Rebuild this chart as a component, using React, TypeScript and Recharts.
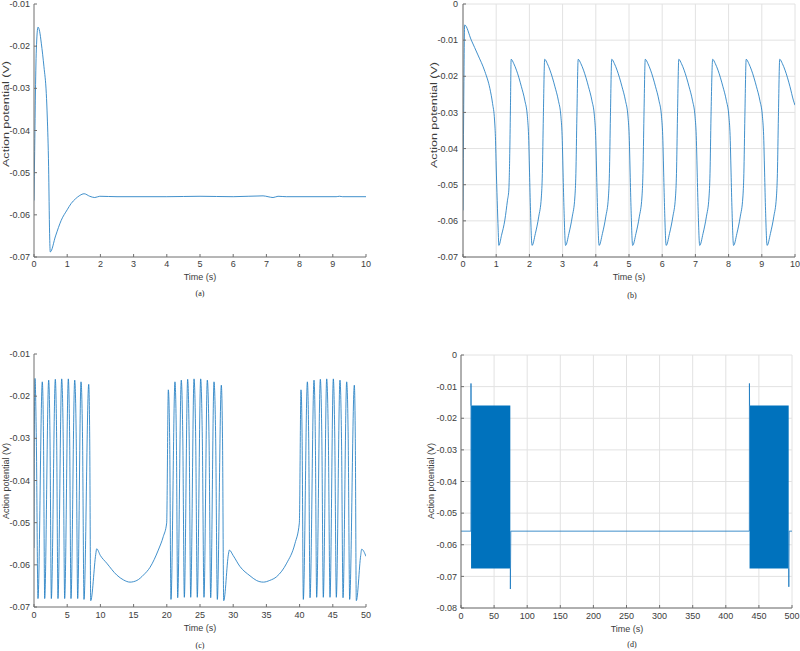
import React from "react";
import { ComposedChart, Line, Area, XAxis, YAxis, CartesianGrid } from "recharts";

// ---------- data ----------
const seriesA: [number, number][] = [
  [0, -0.0566], [0.02, -0.045], [0.04, -0.0328], [0.07, -0.0209], [0.12, -0.0155], [0.17, -0.0165],
  [0.22, -0.0193], [0.30, -0.0249], [0.37, -0.0312], [0.40, -0.0368], [0.44, -0.0486], [0.47, -0.0644],
  [0.49, -0.0688], [0.65, -0.0650], [0.82, -0.0613], [1.0, -0.0588], [1.12, -0.0573], [1.25, -0.0562],
  [1.38, -0.0554], [1.51, -0.0550], [1.68, -0.0556], [1.83, -0.0559], [1.98, -0.0556], [2.5, -0.0557],
  [4, -0.0557], [5, -0.0556], [6, -0.0557], [6.9, -0.0555], [7.05, -0.0557], [7.2, -0.0559],
  [7.35, -0.0556], [7.6, -0.0557], [9.1, -0.0557], [9.2, -0.0556], [9.3, -0.0557], [10, -0.0557],
];

const seriesB: [number, number][] = [
  [0, -0.0571], [0.02, -0.030], [0.05, -0.0058], [0.25, -0.0100], [0.45, -0.0141], [0.66, -0.0187],
  [0.81, -0.0234], [0.89, -0.0275], [0.95, -0.0321], [0.98, -0.0377], [1.00, -0.0451], [1.03, -0.0543],
  [1.06, -0.0626], [1.08, -0.0668], [1.16, -0.0640], [1.26, -0.0598], [1.34, -0.0543], [1.38, -0.0515],
  [1.41, -0.0404], [1.43, -0.0280],
  [1.45, -0.0153], [1.53, -0.0165], [1.61, -0.0183], [1.76, -0.0229], [1.86, -0.0266], [1.94, -0.0312], [1.98, -0.0377], [2.00, -0.0451], [2.03, -0.0561], [2.08, -0.0668], [2.18, -0.0635], [2.28, -0.0589], [2.36, -0.0534], [2.39, -0.0469], [2.42, -0.0312],
  [2.46, -0.0153], [2.54, -0.0165], [2.62, -0.0183], [2.77, -0.0229], [2.87, -0.0266], [2.95, -0.0312], [2.99, -0.0377], [3.01, -0.0451], [3.04, -0.0561], [3.09, -0.0668], [3.19, -0.0635], [3.29, -0.0589], [3.37, -0.0534], [3.40, -0.0469], [3.43, -0.0312],
  [3.47, -0.0153], [3.55, -0.0165], [3.63, -0.0183], [3.78, -0.0229], [3.88, -0.0266], [3.96, -0.0312], [4.00, -0.0377], [4.02, -0.0451], [4.05, -0.0561], [4.10, -0.0668], [4.20, -0.0635], [4.30, -0.0589], [4.38, -0.0534], [4.41, -0.0469], [4.44, -0.0312],
  [4.48, -0.0153], [4.56, -0.0165], [4.64, -0.0183], [4.79, -0.0229], [4.89, -0.0266], [4.97, -0.0312], [5.01, -0.0377], [5.03, -0.0451], [5.06, -0.0561], [5.11, -0.0668], [5.21, -0.0635], [5.31, -0.0589], [5.39, -0.0534], [5.42, -0.0469], [5.45, -0.0312],
  [5.49, -0.0153], [5.57, -0.0165], [5.65, -0.0183], [5.80, -0.0229], [5.90, -0.0266], [5.98, -0.0312], [6.02, -0.0377], [6.04, -0.0451], [6.07, -0.0561], [6.12, -0.0668], [6.22, -0.0635], [6.32, -0.0589], [6.40, -0.0534], [6.43, -0.0469], [6.46, -0.0312],
  [6.50, -0.0153], [6.58, -0.0165], [6.66, -0.0183], [6.81, -0.0229], [6.91, -0.0266], [6.99, -0.0312], [7.03, -0.0377], [7.05, -0.0451], [7.08, -0.0561], [7.13, -0.0668], [7.23, -0.0635], [7.33, -0.0589], [7.41, -0.0534], [7.44, -0.0469], [7.47, -0.0312],
  [7.52, -0.0153], [7.60, -0.0165], [7.68, -0.0183], [7.83, -0.0229], [7.93, -0.0266], [8.01, -0.0312], [8.05, -0.0377], [8.07, -0.0451], [8.10, -0.0561], [8.15, -0.0668], [8.25, -0.0635], [8.35, -0.0589], [8.43, -0.0534], [8.46, -0.0469], [8.49, -0.0312],
  [8.53, -0.0153], [8.61, -0.0165], [8.69, -0.0183], [8.84, -0.0229], [8.94, -0.0266], [9.02, -0.0312], [9.06, -0.0377], [9.08, -0.0451], [9.11, -0.0561], [9.16, -0.0668], [9.26, -0.0635], [9.36, -0.0589], [9.44, -0.0534], [9.47, -0.0469], [9.50, -0.0312],
  [9.54, -0.0153], [9.62, -0.0165], [9.70, -0.0183], [9.85, -0.0229], [9.95, -0.0266], [10.0, -0.0280],
];

const seriesC: [number, number][] = [
  [0, -0.0560], [0.05, -0.030], [0.15, -0.0158], [0.35, -0.030], [0.60, -0.0680],
  [1.25, -0.0166], [1.43, -0.030], [1.61, -0.0680],
  [2.21, -0.0162], [2.41, -0.030], [2.61, -0.0680],
  [3.21, -0.0160], [3.41, -0.030], [3.61, -0.0680],
  [4.17, -0.0159], [4.40, -0.030], [4.62, -0.0680],
  [5.17, -0.0159], [5.37, -0.030], [5.57, -0.0680],
  [6.13, -0.0162], [6.36, -0.030], [6.58, -0.0680],
  [7.08, -0.0166], [7.31, -0.030], [7.53, -0.0682],
  [8.24, -0.0172], [8.39, -0.030], [8.54, -0.0685],
  [9.30, -0.0575], [9.44, -0.0562], [10.0, -0.0578], [10.95, -0.0596], [12.45, -0.0624], [13.5, -0.0636],
  [14.46, -0.0641], [15.5, -0.0637], [16.5, -0.0624], [17.47, -0.0606], [18.72, -0.0565], [19.47, -0.0533], [19.98, -0.0501],
  [20.23, -0.0185], [20.43, -0.030], [20.63, -0.0682],
  [21.23, -0.0166], [21.44, -0.030], [21.64, -0.0678],
  [22.18, -0.0162], [22.41, -0.030], [22.64, -0.0677],
  [23.14, -0.0160], [23.37, -0.030], [23.60, -0.0677],
  [24.10, -0.0159], [24.35, -0.030], [24.59, -0.0677],
  [25.10, -0.0159], [25.35, -0.030], [25.60, -0.0677],
  [26.10, -0.0162], [26.36, -0.030], [26.61, -0.0678],
  [27.11, -0.0166], [27.36, -0.030], [27.61, -0.0682],
  [28.21, -0.0174], [28.39, -0.030], [28.57, -0.0685],
  [29.28, -0.0575], [29.42, -0.0565], [30.0, -0.0578], [31.02, -0.0604], [32.53, -0.0626], [33.5, -0.0637],
  [34.54, -0.0641], [35.5, -0.0637], [36.55, -0.0628], [38.06, -0.0596], [39.31, -0.0549], [39.96, -0.0501],
  [40.21, -0.0185], [40.38, -0.030], [40.56, -0.0682],
  [41.17, -0.0166], [41.37, -0.030], [41.57, -0.0678],
  [42.17, -0.0162], [42.37, -0.030], [42.57, -0.0677],
  [43.12, -0.0160], [43.35, -0.030], [43.57, -0.0677],
  [44.08, -0.0159], [44.33, -0.030], [44.58, -0.0677],
  [45.08, -0.0159], [45.30, -0.030], [45.53, -0.0677],
  [46.08, -0.0162], [46.31, -0.030], [46.54, -0.0678],
  [47.09, -0.0166], [47.32, -0.030], [47.54, -0.0682],
  [48.24, -0.0174], [48.39, -0.030], [48.54, -0.0685],
  [49.20, -0.0578], [49.35, -0.0563], [50, -0.0580],
];

// (d): resting line and edge spikes; null = hidden under the dense burst envelope
const seriesD: [number, number | null][] = [
  [0, -0.0557], [15.0, -0.0557], [15.1, -0.0090], [15.2, -0.0160], [15.3, null], [74.4, null],
  [74.5, -0.0675], [74.6, -0.0740], [75.2, -0.0557], [435.6, -0.0557], [435.7, -0.0090],
  [435.9, -0.0160], [436.0, null], [494.9, null], [495.0, -0.0675], [495.2, -0.0733],
  [495.7, -0.0557], [500, -0.0557],
];

// dense spiking bursts in (d): envelope [low, high]
const burstD1: [number, number, number][] = [[15.2, -0.0675, -0.0160], [74.5, -0.0675, -0.0160]];
const burstD2: [number, number, number][] = [[435.9, -0.0675, -0.0160], [495.0, -0.0675, -0.0160]];

const ticks10 = [0, 1, 2, 3, 4, 5, 6, 7, 8, 9, 10];
const ticks50 = [0, 5, 10, 15, 20, 25, 30, 35, 40, 45, 50];
const ticks500 = [0, 50, 100, 150, 200, 250, 300, 350, 400, 450, 500];
const yTicks7to1 = [-0.07, -0.06, -0.05, -0.04, -0.03, -0.02, -0.01];
const yTicks7to0 = [-0.07, -0.06, -0.05, -0.04, -0.03, -0.02, -0.01, 0];
const yTicks8to0 = [-0.08, -0.07, -0.06, -0.05, -0.04, -0.03, -0.02, -0.01, 0];

const toPts = (s: [number, number | null][]) => s.map(([t, v]) => ({ t, v }));
const toBand = (s: [number, number, number][]) => s.map(([t, lo, hi]) => ({ t, lo, hi }));

// ---------- styling ----------
const LINE = "#1f7cc2";
const FILL = "#0072BD";
const AXIS = "#6f6f6f";
const TXT = "#3c3c3c";
const FONT = "'Liberation Sans', Arial, Helvetica, sans-serif";
const SERIF = "'Liberation Serif', 'Times New Roman', serif";

const fmtY = (v: number) => (Math.abs(v) < 1e-9 ? "0" : v.toFixed(2));

type PanelProps = {
  left: number; top: number; width: number; height: number;
  margin: { top: number; right: number; bottom: number; left: number };
  yAxisWidth: number;
  xDomain: [number, number]; xTicks: number[];
  yDomain: [number, number]; yTicks: number[];
  grid: boolean; yTm: number; xOff: number;
  data: [number, number | null][];
  curve: "monotoneX" | "linear";
  bands?: [number, number, number][][];
};

function Panel(p: PanelProps) {
  const bottomTick = (props: any) => {
    const { x, y, payload } = props;
    return (
      <g>
        <line x1={x} x2={x} y1={y} y2={y - 3} stroke={AXIS} strokeWidth={1} />
        <text x={x} y={y + p.xOff} dy="0.35em" textAnchor="middle" fontSize={9} fill={TXT} fontFamily={FONT}>
          {String(payload.value)}
        </text>
      </g>
    );
  };
  const topTick = (props: any) => {
    const { x, y } = props;
    return <line x1={x} x2={x} y1={y} y2={y + 3} stroke={AXIS} strokeWidth={1} />;
  };
  const leftTick = (props: any) => {
    const { x, y, payload } = props;
    return (
      <g>
        <line x1={x} x2={x + 3} y1={y} y2={y} stroke={AXIS} strokeWidth={1} />
        <text x={x - p.yTm} y={y} dy="0.35em" textAnchor="end" fontSize={9} fill={TXT} fontFamily={FONT}>
          {fmtY(payload.value)}
        </text>
      </g>
    );
  };
  const rightTick = (props: any) => {
    const { x, y } = props;
    return <line x1={x} x2={x - 3} y1={y} y2={y} stroke={AXIS} strokeWidth={1} />;
  };
  return (
    <div style={{ position: "absolute", left: p.left, top: p.top, width: p.width, height: p.height }}>
      <ComposedChart width={p.width} height={p.height} margin={p.margin}>
        {p.grid && <CartesianGrid stroke="#e2e2e2" strokeWidth={1} />}
        <XAxis
          dataKey="t" type="number" domain={p.xDomain} ticks={p.xTicks} interval={0} allowDataOverflow
          height={20} tickSize={0} tickMargin={0} tickLine={false} axisLine={{ stroke: AXIS }} tick={bottomTick}
        />
        <XAxis
          xAxisId="top" orientation="top" dataKey="t" type="number" domain={p.xDomain} ticks={p.xTicks}
          interval={0} allowDataOverflow height={0} tickSize={0} tickMargin={0} tickLine={false}
          axisLine={{ stroke: AXIS }} tick={topTick}
        />
        <YAxis
          type="number" domain={p.yDomain} ticks={p.yTicks} interval={0} allowDataOverflow width={p.yAxisWidth}
          tickSize={0} tickMargin={0} tickLine={false} axisLine={{ stroke: AXIS }} tick={leftTick}
        />
        <YAxis
          yAxisId="right" orientation="right" type="number" domain={p.yDomain} ticks={p.yTicks} interval={0}
          allowDataOverflow width={0} tickSize={0} tickMargin={0} tickLine={false} axisLine={{ stroke: AXIS }}
          tick={rightTick}
        />
        {(p.bands || []).map((b, i) => (
          <Area
            key={i} data={toBand(b)} dataKey={(d: any) => [d.lo, d.hi]} type="linear" stroke="none"
            fill={FILL} fillOpacity={1} isAnimationActive={false} activeDot={false} dot={false}
          />
        ))}
        <Line
          data={toPts(p.data)} dataKey="v" type={p.curve} stroke={LINE} strokeWidth={0.85} dot={false}
          isAnimationActive={false} activeDot={false} connectNulls={false}
        />
      </ComposedChart>
    </div>
  );
}

const labelStyle = { fontFamily: FONT, fontSize: 9, fill: TXT } as const;

export default function App() {
  return (
    <div style={{ position: "absolute", left: 0, top: 0, width: 800, height: 651, background: "#fff" }}>
      <Panel
        left={0} top={0} width={400} height={300}
        margin={{ top: 4, right: 34, bottom: 23, left: 0 }} yAxisWidth={34}
        xDomain={[0, 10]} xTicks={ticks10} yDomain={[-0.07, -0.01]} yTicks={yTicks7to1}
        grid={false} yTm={4} xOff={7} data={seriesA} curve="monotoneX"
      />
      <Panel
        left={420} top={0} width={380} height={300}
        margin={{ top: 4, right: 5, bottom: 23, left: 0 }} yAxisWidth={43}
        xDomain={[0, 10]} xTicks={ticks10} yDomain={[-0.07, 0]} yTicks={yTicks7to0}
        grid={true} yTm={5} xOff={7} data={seriesB} curve="monotoneX"
      />
      <Panel
        left={0} top={330} width={400} height={300}
        margin={{ top: 24, right: 34, bottom: 3, left: 0 }} yAxisWidth={34}
        xDomain={[0, 50]} xTicks={ticks50} yDomain={[-0.07, -0.01]} yTicks={yTicks7to1}
        grid={false} yTm={4} xOff={8} data={seriesC} curve="monotoneX"
      />
      <Panel
        left={420} top={330} width={380} height={300}
        margin={{ top: 25, right: 8, bottom: 2, left: 0 }} yAxisWidth={41}
        xDomain={[0, 500]} xTicks={ticks500} yDomain={[-0.08, 0]} yTicks={yTicks8to0}
        grid={true} yTm={4} xOff={8} data={seriesD} curve="linear" bands={[burstD1, burstD2]}
      />
      <svg width={800} height={651} style={{ position: "absolute", left: 0, top: 0, pointerEvents: "none" }}>
        <text x={200} y={277} dy="0.35em" textAnchor="middle" {...labelStyle}>Time (s)</text>
        <text x={629} y={277} dy="0.35em" textAnchor="middle" {...labelStyle}>Time (s)</text>
        <text x={200} y={628} dy="0.35em" textAnchor="middle" {...labelStyle}>Time (s)</text>
        <text x={627} y={629} dy="0.35em" textAnchor="middle" {...labelStyle}>Time (s)</text>

        <text transform="translate(6,114) rotate(-90)" dy="0.35em" textAnchor="middle" textLength={106}
          lengthAdjust="spacingAndGlyphs" {...labelStyle}>Action potential (V)</text>
        <text transform="translate(434,115) rotate(-90)" dy="0.35em" textAnchor="middle" textLength={106}
          lengthAdjust="spacingAndGlyphs" {...labelStyle}>Action potential (V)</text>
        <text transform="translate(6,481) rotate(-90)" dy="0.35em" textAnchor="middle" {...labelStyle}>Action potential (V)</text>
        <text transform="translate(431,481) rotate(-90)" dy="0.35em" textAnchor="middle" {...labelStyle}>Action potential (V)</text>

        <text x={200} y={293} dy="0.35em" textAnchor="middle" fontFamily={SERIF} fontSize={8} fill="#222">(a)</text>
        <text x={632} y={295} dy="0.35em" textAnchor="middle" fontFamily={SERIF} fontSize={8} fill="#222">(b)</text>
        <text x={200} y={645} dy="0.35em" textAnchor="middle" fontFamily={SERIF} fontSize={8} fill="#222">(c)</text>
        <text x={632} y={644} dy="0.35em" textAnchor="middle" fontFamily={SERIF} fontSize={8} fill="#222">(d)</text>
      </svg>
    </div>
  );
}
